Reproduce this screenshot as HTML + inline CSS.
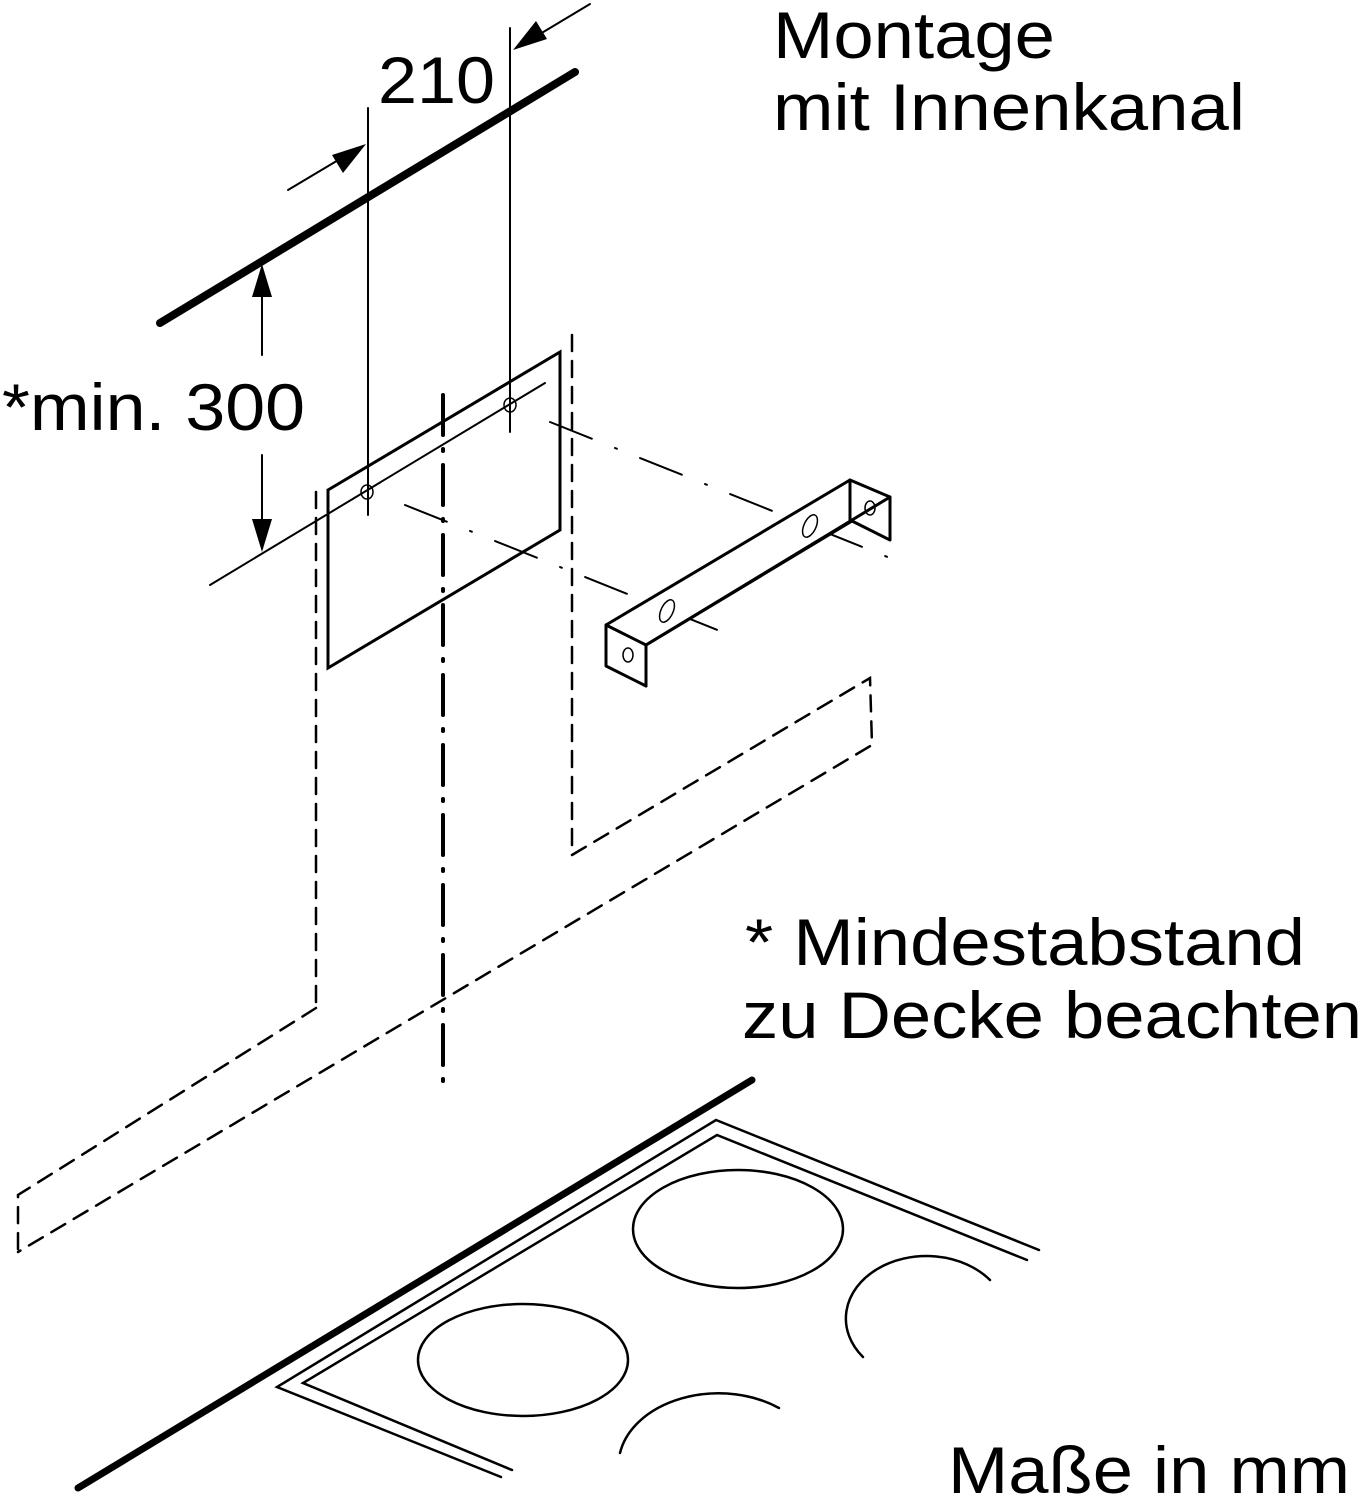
<!DOCTYPE html>
<html><head><meta charset="utf-8"><style>
html,body{margin:0;padding:0;background:#fff}
svg{display:block}
text{font-family:"Liberation Sans",sans-serif;fill:#000}
</style></head><body>
<svg width="1366" height="1500" viewBox="0 0 1366 1500" xmlns="http://www.w3.org/2000/svg">
<g stroke="#000" fill="none" stroke-linecap="round">
<line x1="160" y1="323" x2="575" y2="72" stroke-width="8"/>
<line x1="368" y1="108" x2="368" y2="515" stroke-width="2"/>
<line x1="510" y1="28" x2="510" y2="432" stroke-width="2"/>
<line x1="288" y1="190" x2="350" y2="153" stroke-width="2"/>
<polygon points="366,144 332,155 343,173" fill="#000" stroke="none"/>
<line x1="590" y1="4" x2="530" y2="40" stroke-width="2"/>
<polygon points="513,50 547,39 536,21" fill="#000" stroke="none"/>
<line x1="262" y1="285" x2="262" y2="355" stroke-width="2"/>
<polygon points="262,264 252,297 272,297" fill="#000" stroke="none"/>
<line x1="262" y1="455" x2="262" y2="530" stroke-width="2"/>
<polygon points="262,552 252,519 272,519" fill="#000" stroke="none"/>
<line x1="210" y1="585" x2="545" y2="383" stroke-width="2"/>
<polygon points="328,490 560,352 560,530 328,668" stroke-width="3"/>
<ellipse cx="367" cy="492" rx="6" ry="7" stroke-width="1.5"/>
<ellipse cx="510" cy="405" rx="6" ry="7" stroke-width="1.5"/>
<line x1="443" y1="395" x2="443" y2="1085" stroke-width="4" stroke-dasharray="40,14,2,14"/>
<line x1="572" y1="335" x2="572" y2="855" stroke-width="2.5" stroke-dasharray="16,10"/>
<polyline points="572,855 870,678 872,745 18,1252" stroke-width="2.5" stroke-dasharray="16,10"/>
<line x1="316" y1="492" x2="316" y2="1008" stroke-width="2.5" stroke-dasharray="16,10"/>
<polyline points="316,1008 18,1195 18,1252" stroke-width="2.5" stroke-dasharray="16,10"/>
<line x1="550" y1="422" x2="900" y2="562" stroke-width="2" stroke-dasharray="45,25,2,25"/>
<line x1="405" y1="505" x2="735" y2="637" stroke-width="2" stroke-dasharray="45,25,2,25"/>
<g stroke-width="3" stroke-linejoin="round" fill="#fff">
<polygon points="606,625 850,480 890,497 890,540 852,521 646,645 646,686 606,666"/>
<polyline points="606,625 646,645 646,686" fill="none"/>
<polyline points="850,480 850,522" fill="none"/>
<line x1="646" y1="645" x2="890" y2="497"/>
</g>
<ellipse cx="628" cy="655" rx="5" ry="7" stroke-width="1.5"/>
<ellipse cx="870" cy="508" rx="5" ry="7" stroke-width="1.5"/>
<ellipse cx="667" cy="611" rx="6" ry="12" transform="rotate(25 667 611)" stroke-width="1.5"/>
<ellipse cx="810" cy="526" rx="6" ry="12" transform="rotate(25 810 526)" stroke-width="1.5"/>
<line x1="78" y1="1488" x2="752" y2="1080" stroke-width="7"/>
<polyline points="501,1477 277,1387 716,1120 1039,1250" stroke-width="2.5"/>
<polyline points="512,1470 303,1383 717,1135 1027,1260" stroke-width="2.5"/>
<ellipse cx="738" cy="1229" rx="105" ry="59" stroke-width="2.5"/>
<ellipse cx="523" cy="1360" rx="105" ry="56" stroke-width="2.5"/>
<path d="M990,1280 A80,62 0 0 0 863,1357" stroke-width="2.5"/>
<path d="M779,1408 A100,72 0 0 0 620,1453" stroke-width="2.5"/>
</g>
<g font-size="66">
<text x="773" y="58" textLength="282" lengthAdjust="spacingAndGlyphs">Montage</text>
<text x="773" y="130" textLength="472" lengthAdjust="spacingAndGlyphs">mit Innenkanal</text>
<text x="378" y="103" textLength="117" lengthAdjust="spacingAndGlyphs">210</text>
<text x="2" y="430" textLength="303" lengthAdjust="spacingAndGlyphs">*min. 300</text>
<text x="745" y="965" textLength="560" lengthAdjust="spacingAndGlyphs">* Mindestabstand</text>
<text x="742" y="1038" textLength="620" lengthAdjust="spacingAndGlyphs">zu Decke beachten</text>
<text x="948" y="1493" textLength="402" lengthAdjust="spacingAndGlyphs">Maße in mm</text>
</g>
</svg>
</body></html>
